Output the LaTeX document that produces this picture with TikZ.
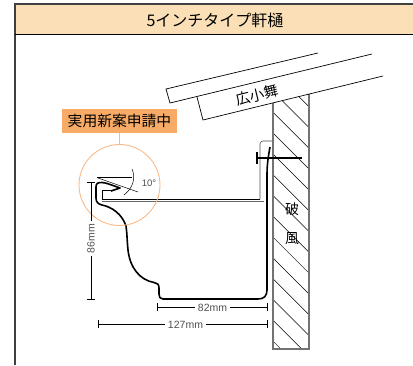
\documentclass[tikz,border=0pt]{standalone}
\usepackage{fontspec}
\setmainfont{Liberation Sans}
\newfontfamily\cjk{Noto Sans CJK JP}
\usetikzlibrary{positioning,calc}
\definecolor{headfill}{HTML}{FBE0B7}
\definecolor{tagfill}{HTML}{F8AB66}
\definecolor{ringcol}{HTML}{F9B988}
\definecolor{dimtext}{HTML}{505050}
\tikzset{
    board/.style={draw=black, line width=0.7pt},
    wallline/.style={draw=black!55, line width=1.2pt},
    hatchline/.style={draw=black, line width=0.5pt},
    gutter/.style={draw=black, line width=1.6pt, line join=round},
    dimline/.style={draw=black, line width=0.7pt},
    dimlabel/.style={text=dimtext, font=\fontsize{10.5}{11}\selectfont, inner sep=3pt},
    walllabel/.style={font=\cjk\fontsize{14}{14}\selectfont, inner sep=0pt}
}
\begin{document}
\begin{tikzpicture}[x=1pt,y=-1pt]
\useasboundingbox (0,0) rectangle (413,365);
% header and frame
\fill[headfill] (15,4) rectangle (413,34);
\draw[black!75, line width=1.6pt] (15,365) -- (15,4) -- (413,4);
\draw[black, line width=0.9pt] (15,34) -- (413,34);
\node[font=\cjk\fontsize{16}{16}\selectfont, inner sep=0pt] (title) at (215,20) {5インチタイプ軒樋};
% wall
\begin{scope}
    \clip (273,103) -- (309,94.2) -- (309,349) -- (273,349) -- cycle;
    \foreach \y in {70.7,91.5,112.3,133.1,153.9,174.7,195.5,216.3,237.1,257.9,278.7,299.5,320.3,341.1}
        \draw[hatchline] (273,\y) -- ++(36,36);
\end{scope}
\draw[wallline] (273,103) -- (273,349) -- (309,349) -- (309,94.2);
\node[walllabel] (wallA) at (292,209) {破};
\node[walllabel] (wallB) at (292,239) {風};
% roof boards
\draw[board] (318,53) -- (166,89) -- (170,103) -- (372,54);
\draw[board] (197,97) -- (203,120) -- (383,76);
\node[font=\cjk\fontsize{14.5}{15}\selectfont, inner sep=0pt, rotate=14] (boardlabel) at (257,95) {広小舞};
% inner hanger
\draw[black!70, line width=0.6pt, rounded corners=3pt] (272,141) -- (260,141) -- (260,199);
\draw[black, line width=0.7pt] (260,199) -- (102,199) -- (102,190) -- (113,190);
\draw[black!60, line width=0.9pt] (264,201.5) -- (102,201.5);
% gutter
\draw[gutter] (270,147) .. controls (268,158) and (267,165) .. (267,176) -- (267,290)
    .. controls (267,296) and (264,299) .. (258,299) -- (163,299)
    .. controls (160,299) and (159,297) .. (159,294) -- (159,288)
    .. controls (159,284) and (157,283) .. (154,282.5)
    .. controls (140,280) and (130,268) .. (128,250)
    .. controls (127,240) and (127,232) .. (126,226)
    .. controls (122,214) and (112,207) .. (102,205)
    .. controls (98,204) and (96,202) .. (96,198) -- (96,187)
    .. controls (96,183) and (98,182.5) .. (102,182.5)
    .. controls (106,182.5) and (114,186) .. (120,188)
    -- (111,191);
% screw
\draw[black, line width=1.3pt] (257,158) -- (302,158);
\draw[black, line width=1.6pt] (257,152) -- (257,164);
% detail ring
\draw[ringcol, line width=0.9pt] (119.5,185) circle (40.5);
\node[fill=tagfill, minimum width=115pt, minimum height=24pt, inner sep=0pt, font=\cjk\fontsize{14.8}{15}\selectfont] (tag) at (119.5,121) {実用新案申請中};
\coordinate (ringtop) at (119.5,144.5);
\draw[ringcol, line width=0.9pt] (tag) -- (ringtop);
% angle marks
\draw[black, line width=0.7pt] (97,177.3) -- (132,177.3);
\draw[black, line width=0.5pt] (98,178) -- (138,192);
\draw[black, line width=0.5pt] (132,169) .. controls (136,178) and (133,188) .. (124,195);
\node[dimlabel, font=\fontsize{9.5}{10}\selectfont] (angle) at (149,183) {10°};
% dimensions
\node[dimlabel, rotate=90] (dimH) at (91,238.5) {86mm};
\coordinate (dimHtop) at (91,182);
\coordinate (dimHbot) at (91,299);
\draw[dimline] (dimHtop) -- (dimH);
\draw[dimline] (dimH) -- (dimHbot);
\draw[dimline] (87,182) -- (95,182);
\draw[dimline] (87,299) -- (95,299);
\node[dimlabel] (dimB) at (212.5,307.5) {82mm};
\coordinate (dimBl) at (157,307);
\coordinate (dimBr) at (267,307);
\draw[dimline] (dimBl) -- (dimBl -| dimB.west);
\draw[dimline] (dimB.east |- dimBr) -- (dimBr);
\draw[dimline] (157,303) -- (157,311);
\draw[dimline] (267,303) -- (267,311);
\node[dimlabel] (dimW) at (185.5,324.5) {127mm};
\coordinate (dimWl) at (98,324);
\coordinate (dimWr) at (267,324);
\draw[dimline] (dimWl) -- (dimWl -| dimW.west);
\draw[dimline] (dimW.east |- dimWr) -- (dimWr);
\draw[dimline] (98,320) -- (98,328);
\draw[dimline] (267,320) -- (267,328);
\end{tikzpicture}
\end{document}
